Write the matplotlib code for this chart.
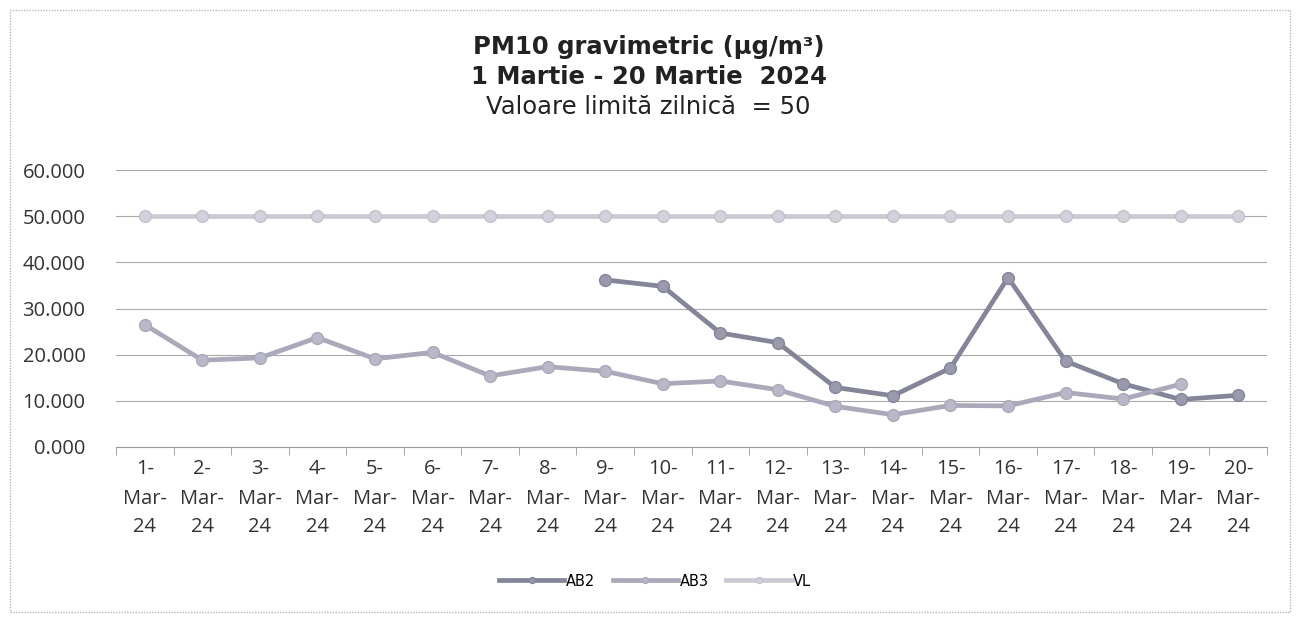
import numpy as np
import matplotlib
matplotlib.use("Agg")
import matplotlib.pyplot as plt
from matplotlib.patches import Rectangle

# values (ug/m3)
days = list(range(1, 21))
tick_labels = ["%d-\nMar-\n24" % d for d in days]
ab2 = [np.nan] * 8 + [36.2, 34.8, 24.7, 22.6, 12.9, 11.1, 17.1, 36.7, 18.6, 13.7, 10.3, 11.2]
ab3 = [26.5, 18.8, 19.3, 23.7, 19.1, 20.5, 15.4, 17.4, 16.4, 13.7,
       14.3, 12.4, 8.8, 7.0, 9.0, 8.9, 11.8, 10.4, 13.6, np.nan]
vl = [50] * 20

title_lines = ["PM10 gravimetric (µg/m³)", "1 Martie - 20 Martie  2024", "Valoare limită zilnică  = 50"]

fig = plt.figure(figsize=(12.97, 6.17), dpi=100)
fig.patches.append(Rectangle((10 / 1297, 5 / 617), 1280 / 1297, 602 / 617, transform=fig.transFigure,
                             fill=False, edgecolor="#b8b8b8", linewidth=1.0, linestyle=(0, (1, 1))))

ax = fig.add_axes([116 / 1297, 1 - 447 / 617, 1151 / 1297, 277 / 617])
x = np.arange(len(days))

ax.plot(x, ab2, color="#85859a", lw=3.4, marker="o", ms=8.5, mfc="#9a9aac", mec="#85859a", label="AB2", zorder=3)
ax.plot(x, ab3, color="#a9a9ba", lw=3.4, marker="o", ms=8.5, mfc="#b8b8c8", mec="#a9a9ba", label="AB3", zorder=3)
ax.plot(x, vl, color="#cacad4", lw=3.4, marker="o", ms=8.5, mfc="#d2d2dc", mec="#c2c2cc", label="VL", zorder=3)

ax.set_xlim(-0.5, 19.5)
ax.set_ylim(0, 60)
ax.set_yticks(np.arange(0, 61, 10))
ax.set_yticklabels(["%.3f" % v for v in np.arange(0, 61, 10)], fontsize=14.5, color="#333333",
                   family="Open Sans")
ax.grid(axis="y", color="#a8a8a8", lw=0.8)
ax.set_axisbelow(True)

ax.set_xticks(x)
ax.set_xticklabels(tick_labels, fontsize=14.5, color="#333333", family="Open Sans", linespacing=1.6)
ax.set_xticks(np.arange(-0.5, 20, 1), minor=True)
ax.tick_params(axis="x", which="major", length=0, pad=9)
ax.tick_params(axis="x", which="minor", length=6, color="#9a9a9a", direction="out")
ax.tick_params(axis="y", length=0, pad=22)

for s in ["top", "right", "left"]:
    ax.spines[s].set_visible(False)
ax.spines["bottom"].set_color("#9a9a9a")

fig.text(0.5, 1 - 47 / 617, title_lines[0], ha="center", va="center", fontsize=17.5, fontweight="bold", color="#222222")
fig.text(0.5, 1 - 77 / 617, title_lines[1], ha="center", va="center", fontsize=17.5, fontweight="bold", color="#222222")
fig.text(0.5, 1 - 107 / 617, title_lines[2], ha="center", va="center", fontsize=17.5, color="#222222")

fig.legend(loc="center", bbox_to_anchor=(0.505, 1 - 581 / 617), ncol=3, frameon=False, fontsize=10.5,
           handlelength=4.5, columnspacing=1.2, markerscale=0.5, handletextpad=0.1)

fig.savefig("out.png", dpi=100)
